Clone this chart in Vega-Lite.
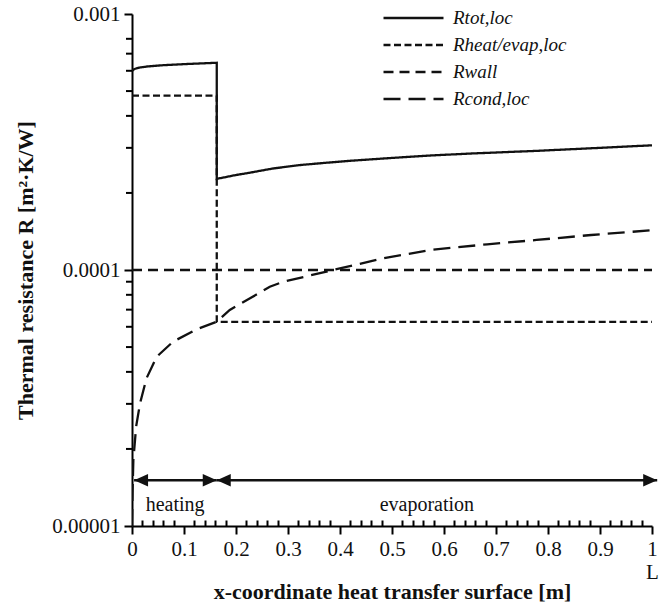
{
  "$schema": "https://vega.github.io/schema/vega-lite/v6.json",
  "width": 520,
  "height": 512,
  "autosize": "none",
  "padding": {"left": 132, "top": 14, "right": 8, "bottom": 78},
  "background": "white",
  "config": {
    "view": {"stroke": null},
    "axis": {"domainColor": "#000", "domainWidth": 2, "tickColor": "#000", "tickWidth": 2, "labelFont": "Liberation Serif", "labelFontSize": 21, "labelColor": "#111", "titleFont": "Liberation Serif", "titleFontSize": 22, "titleFontWeight": "bold", "titleColor": "#111", "grid": false},
    "legend": {"labelFont": "Liberation Serif", "labelFontStyle": "italic", "labelFontSize": 19, "labelColor": "#111"}
  },
  "datasets": {
    "lines": [
      {"s": "Rtot,loc", "i": 1, "x": 0, "R": 0.000600},
      {"s": "Rtot,loc", "i": 2, "x": 0.005, "R": 0.000610},
      {"s": "Rtot,loc", "i": 3, "x": 0.015, "R": 0.000618},
      {"s": "Rtot,loc", "i": 4, "x": 0.03, "R": 0.000624},
      {"s": "Rtot,loc", "i": 5, "x": 0.06, "R": 0.000631},
      {"s": "Rtot,loc", "i": 6, "x": 0.1, "R": 0.000637},
      {"s": "Rtot,loc", "i": 7, "x": 0.163, "R": 0.000645},
      {"s": "Rtot,loc", "i": 8, "x": 0.163, "R": 0.000227},
      {"s": "Rtot,loc", "i": 9, "x": 0.2, "R": 0.000235},
      {"s": "Rtot,loc", "i": 10, "x": 0.227, "R": 0.000240},
      {"s": "Rtot,loc", "i": 11, "x": 0.27, "R": 0.000249},
      {"s": "Rtot,loc", "i": 12, "x": 0.323, "R": 0.000257},
      {"s": "Rtot,loc", "i": 13, "x": 0.37, "R": 0.000262},
      {"s": "Rtot,loc", "i": 14, "x": 0.419, "R": 0.000267},
      {"s": "Rtot,loc", "i": 15, "x": 0.5, "R": 0.000274},
      {"s": "Rtot,loc", "i": 16, "x": 0.573, "R": 0.000280},
      {"s": "Rtot,loc", "i": 17, "x": 0.65, "R": 0.000285},
      {"s": "Rtot,loc", "i": 18, "x": 0.778, "R": 0.000292},
      {"s": "Rtot,loc", "i": 19, "x": 0.9, "R": 0.000300},
      {"s": "Rtot,loc", "i": 20, "x": 1.0, "R": 0.000307},
      {"s": "Rheat/evap,loc", "i": 1, "x": 0, "R": 0.00048},
      {"s": "Rheat/evap,loc", "i": 2, "x": 0.163, "R": 0.00048},
      {"s": "Rheat/evap,loc", "i": 3, "x": 0.163, "R": 0.0000627},
      {"s": "Rheat/evap,loc", "i": 4, "x": 1.0, "R": 0.0000627},
      {"s": "Rwall", "i": 1, "x": 0, "R": 0.0001},
      {"s": "Rwall", "i": 2, "x": 1.0, "R": 0.0001},
      {"s": "Rcond,loc", "i": 1, "x": 0, "R": 0.0000100},
      {"s": "Rcond,loc", "i": 2, "x": 0.001, "R": 0.0000135},
      {"s": "Rcond,loc", "i": 3, "x": 0.0026, "R": 0.0000181},
      {"s": "Rcond,loc", "i": 4, "x": 0.008, "R": 0.0000245},
      {"s": "Rcond,loc", "i": 5, "x": 0.0154, "R": 0.0000301},
      {"s": "Rcond,loc", "i": 6, "x": 0.028, "R": 0.0000378},
      {"s": "Rcond,loc", "i": 7, "x": 0.0474, "R": 0.0000458},
      {"s": "Rcond,loc", "i": 8, "x": 0.079, "R": 0.0000525},
      {"s": "Rcond,loc", "i": 9, "x": 0.124, "R": 0.0000586},
      {"s": "Rcond,loc", "i": 10, "x": 0.163, "R": 0.0000628},
      {"s": "Rcond,loc", "i": 11, "x": 0.188, "R": 0.0000698},
      {"s": "Rcond,loc", "i": 12, "x": 0.227, "R": 0.0000775},
      {"s": "Rcond,loc", "i": 13, "x": 0.265, "R": 0.0000860},
      {"s": "Rcond,loc", "i": 14, "x": 0.291, "R": 0.0000900},
      {"s": "Rcond,loc", "i": 15, "x": 0.387, "R": 0.000100},
      {"s": "Rcond,loc", "i": 16, "x": 0.483, "R": 0.000111},
      {"s": "Rcond,loc", "i": 17, "x": 0.573, "R": 0.0001197},
      {"s": "Rcond,loc", "i": 18, "x": 0.683, "R": 0.000126},
      {"s": "Rcond,loc", "i": 19, "x": 0.778, "R": 0.000131},
      {"s": "Rcond,loc", "i": 20, "x": 0.883, "R": 0.000137},
      {"s": "Rcond,loc", "i": 21, "x": 1.0, "R": 0.000143}
    ],
    "spans": [
      {"name": "heating", "x": 0.004, "x2": 0.163, "R": 0.0000151},
      {"name": "evaporation", "x": 0.163, "x2": 1.01, "R": 0.0000151}
    ],
    "spanLabels": [
      {"name": "heating", "x": 0.083, "R": 0.0000121},
      {"name": "evaporation", "x": 0.567, "R": 0.0000121}
    ],
    "heads": [
      {"x": 0.004, "dir": "left", "R": 0.0000151},
      {"x": 0.163, "dir": "right", "R": 0.0000151},
      {"x": 0.163, "dir": "left", "R": 0.0000151},
      {"x": 1.01, "dir": "right", "R": 0.0000151}
    ],
    "minorTicks": [
      {"x": 0, "R": 0.00002}, {"x": 0, "R": 0.00003}, {"x": 0, "R": 0.00004}, {"x": 0, "R": 0.00005},
      {"x": 0, "R": 0.00006}, {"x": 0, "R": 0.00007}, {"x": 0, "R": 0.00008}, {"x": 0, "R": 0.00009},
      {"x": 0, "R": 0.0002}, {"x": 0, "R": 0.0003}, {"x": 0, "R": 0.0004}, {"x": 0, "R": 0.0005},
      {"x": 0, "R": 0.0006}, {"x": 0, "R": 0.0007}, {"x": 0, "R": 0.0008}
    ]
  },
  "encoding": {
    "x": {
      "field": "x", "type": "quantitative",
      "scale": {"domain": [0, 1], "nice": false, "zero": false},
      "axis": {
        "title": "x-coordinate heat transfer surface [m]",
        "values": [0,0.02,0.04,0.06,0.08,0.1,0.12,0.14,0.16,0.18,0.2,0.22,0.24,0.26,0.28,0.3,0.32,0.34,0.36,0.38,0.4,0.42,0.44,0.46,0.48,0.5,0.52,0.54,0.56,0.58,0.6,0.62,0.64,0.66,0.68,0.7,0.72,0.74,0.76,0.78,0.8,0.82,0.84,0.86,0.88,0.9,0.92,0.94,0.96,0.98,1],
        "labelExpr": "abs(datum.value*10 - round(datum.value*10)) < 1e-6 ? (datum.value == 1 ? ['1', 'L'] : format(datum.value, '.1~f')) : ''",
        "labelFlush": false,
        "labelOverlap": false,
        "labelPadding": 4,
        "tickSize": {"condition": {"test": "abs(datum.value*10 - round(datum.value*10)) < 1e-6", "value": 8}, "value": -6},
        "titleY": 72,
        "titleBaseline": "alphabetic"
      }
    },
    "y": {
      "field": "R", "type": "quantitative",
      "scale": {"type": "log", "domain": [0.00001, 0.001], "nice": false},
      "axis": {
        "title": "Thermal resistance R [m²·K/W]",
        "values": [0.00001, 0.0001, 0.001],
        "labelExpr": "format(datum.value, '.5~f')",
        "labelOverlap": false,
        "labelPadding": 4,
        "tickSize": 8,
        "titlePadding": 14
      }
    }
  },
  "layer": [
    {
      "data": {"name": "lines"},
      "mark": {"type": "line", "color": "#111", "strokeWidth": 2.3, "clip": true},
      "encoding": {
        "strokeDash": {
          "field": "s", "type": "nominal",
          "scale": {"domain": ["Rtot,loc", "Rheat/evap,loc", "Rwall", "Rcond,loc"], "range": [[1, 0], [7, 3.5], [10, 6], [17, 8]]},
          "legend": {
            "title": null, "orient": "none", "legendX": 250, "legendY": -6,
            "symbolType": "stroke", "symbolSize": 3600, "symbolStrokeWidth": 2.3, "symbolStrokeColor": "#111",
            "labelOffset": 8, "rowPadding": 7, "clipHeight": 20
          }
        },
        "order": {"field": "i", "type": "quantitative"}
      }
    },
    {
      "data": {"name": "minorTicks"},
      "mark": {"type": "tick", "orient": "horizontal", "color": "#000", "size": 6, "thickness": 2, "xOffset": -3, "opacity": 1}
    },
    {
      "data": {"name": "spans"},
      "mark": {"type": "rule", "color": "#111", "strokeWidth": 2.5},
      "encoding": {
        "x2": {"field": "x2"}
      }
    },
    {
      "data": {"name": "heads"},
      "mark": {"type": "point", "filled": true, "color": "#111", "opacity": 1, "size": 784},
      "encoding": {
        "shape": {"field": "dir", "type": "nominal", "scale": {"domain": ["left", "right"], "range": ["M0,0L1,-0.45L1,0.45Z", "M0,0L-1,-0.45L-1,0.45Z"]}, "legend": null}
      }
    },
    {
      "data": {"name": "spanLabels"},
      "mark": {"type": "text", "font": "Liberation Serif", "fontSize": 20, "color": "#111", "baseline": "middle", "align": "center"},
      "encoding": {
        "text": {"field": "name"}
      }
    }
  ]
}
